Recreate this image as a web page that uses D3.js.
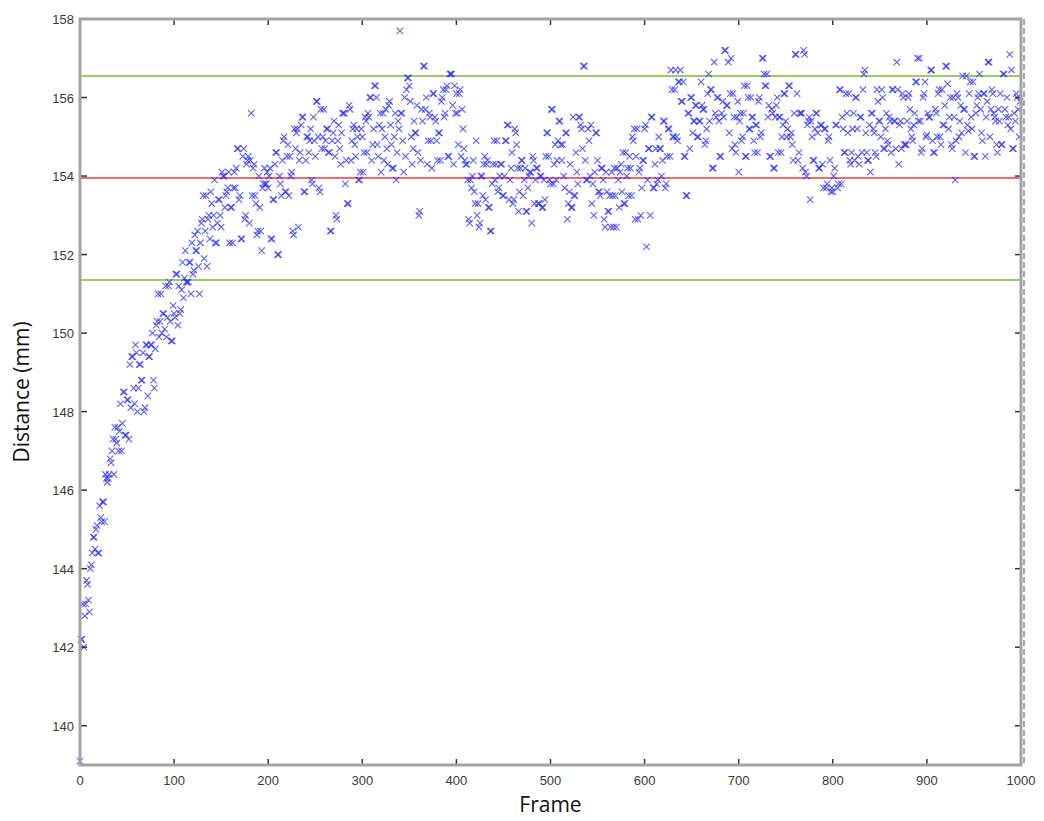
<!DOCTYPE html>
<html>
<head>
<meta charset="utf-8">
<script src="https://cdn.jsdelivr.net/npm/d3@7"></script>
<style>
  body { margin: 0; background: #fff; }
  svg { display: block; }
</style>
</head>
<body>
<svg id="chart" width="1044" height="821"></svg>
<script>
// distance, even frames (0, 2, 4 ...)
const distEven0 = [
  139.1,142.2,142.0,143.1,143.6,142.9,144.1,144.8,144.5,145.1,
  144.4,145.3,145.7,145.2,146.3,146.3,146.8,147.0,146.4,147.3,
  147.6,147.5,147.0,148.5,147.4,148.3,147.3,148.1,149.4,148.2,
  149.5,148.6,149.2,148.8,148.0,149.7,148.4,149.4,149.7,148.8,
  149.6,150.3,149.9,151.0,150.5,150.1,149.9,151.2,150.3,149.8,
  150.5,151.5,150.2,150.5,151.1,150.9,152.1,151.3,151.8,151.0,
  151.5,152.5,152.1,151.7,152.3,152.9,151.9,153.5,152.9,152.4,
  153.3,153.0,152.3,152.8,153.4,152.7,154.0,153.2,153.6,154.1,
  153.2,152.3,154.1,154.2,154.7,153.5,152.4,154.7,153.0,154.4,
  152.8,155.6,154.2,153.5,152.5,154.0,152.6,153.7,154.2,153.8
];
const distEven200 = [
  153.7,154.2,152.4,153.4,154.6,152.0,154.0,153.5,154.9,153.6,
  154.5,153.5,154.0,152.6,155.2,155.1,152.7,154.6,155.5,153.6,
  154.4,155.0,154.9,153.9,155.5,154.5,155.9,153.7,155.7,155.0,
  154.7,155.2,154.6,152.6,154.9,155.4,153.0,154.9,154.7,155.1,
  155.6,153.8,153.3,155.8,154.4,155.2,154.8,155.2,153.9,154.1,
  155.0,154.6,155.4,155.6,156.0,154.4,155.2,156.3,154.8,155.3,
  154.1,155.6,155.0,154.7,155.8,155.3,154.2,155.0,153.9,155.4,
  157.7,155.6,154.1,154.5,156.5,156.3,155.0,154.7,155.1,155.8,
  153.0,154.4,155.4,156.8,156.0,154.9,155.5,154.2,156.1,155.4,
  154.4,155.1,155.9,156.2,155.6,156.3,154.5,156.6,155.8,156.3
];
const distEven400 = [
  156.1,154.8,156.2,155.7,154.7,154.3,153.9,152.8,153.7,154.4,
  153.3,153.0,152.7,154.0,153.5,154.5,154.3,153.2,152.6,153.8,
  154.9,154.3,153.6,154.0,154.3,153.5,154.9,155.3,153.4,154.2,
  153.3,155.2,154.8,153.1,154.2,154.4,153.9,153.1,153.7,154.1,
  152.8,154.4,153.9,154.2,153.3,154.0,153.2,153.4,155.1,154.5,
  153.8,155.7,154.3,153.9,154.9,155.4,154.4,154.0,155.1,152.9,
  153.6,153.2,155.5,153.5,154.1,155.5,155.3,154.7,156.8,153.9,
  155.2,154.0,153.3,153.0,155.1,154.4,153.6,154.2,153.9,152.7,
  153.6,153.1,152.7,153.5,154.2,152.7,153.9,154.1,153.6,153.3,
  154.6,154.2,154.5,153.5,154.9,152.9,155.2,154.1,153.0,154.4
];
const distEven600 = [
  155.2,152.2,154.7,153.0,155.5,153.7,154.7,153.9,154.7,154.0,
  155.4,153.7,154.5,155.2,156.7,155.0,156.2,155.0,156.4,156.7,
  155.9,154.5,153.5,155.6,154.7,156.0,155.4,155.8,155.0,155.4,
  156.4,155.7,154.8,155.2,156.6,156.2,154.2,156.9,155.5,156.0,
  154.5,155.6,155.5,157.2,155.8,155.1,157.0,156.1,154.8,155.5,
  154.1,155.6,155.0,156.3,154.5,156.0,155.2,155.5,154.9,155.3,
  154.6,156.0,155.1,157.0,156.3,156.6,155.8,154.5,155.6,154.2,
  155.8,154.6,155.5,155.0,156.1,155.4,155.2,156.3,155.1,154.4,
  157.1,156.1,154.6,155.6,154.2,157.1,154.0,155.4,153.4,155.0,
  154.4,155.6,155.1,154.2,155.3,153.7,155.2,153.8,155.0,153.6
];
const distEven800 = [
  153.6,154.2,155.3,153.8,156.2,155.5,154.6,156.1,155.1,154.4,
  154.6,155.6,156.0,155.2,154.3,155.5,156.2,156.7,154.6,154.4,
  154.1,155.6,155.1,154.5,155.9,155.4,156.2,154.7,155.2,154.9,
  155.5,154.6,156.2,155.4,156.9,154.3,155.4,156.1,154.8,154.8,
  156.0,155.7,155.0,155.3,156.4,157.0,157.0,154.6,156.0,156.4,
  155.05,155.5,156.7,154.9,154.6,155.6,156.1,155.0,156.2,155.3,
  156.8,156.35,155.5,154.8,156.0,153.9,156.1,155.0,155.8,156.55,
  155.7,156.55,155.15,156.4,155.2,154.5,155.6,156.0,156.6,155.1,
  156.1,154.5,155.9,156.9,155.7,156.1,155.5,154.8,155.7,156.1,
  154.8,156.6,155.5,155.3,157.1,156.7,154.7,155.4,156.0,155.0
];

// odd frames (1, 3, 5 ...)
const distOdd0 = [
  142.2,143.1,142.8,143.7,143.2,144.0,144.4,144.8,145.0,144.4,
  145.6,145.2,145.7,146.4,146.2,146.4,146.7,147.3,147.6,147.2,
  147.0,148.2,147.7,148.5,147.4,148.3,149.2,149.4,148.6,149.7,
  148.0,149.2,148.8,149.5,148.1,149.7,149.4,149.7,150.0,148.6,
  150.2,151.0,150.3,150.0,150.5,151.2,150.4,151.3,149.8,150.7,
  150.4,151.5,151.2,150.6,151.8,151.4,151.3,151.3,151.8,152.3,
  151.6,152.1,152.6,151.0,152.8,153.5,152.6,151.7,153.0,153.6,
  152.7,153.9,152.3,153.4,153.0,154.1,154.0,153.5,153.7,152.3,
  153.2,153.7,153.7,154.7,153.4,152.4,154.5,152.9,154.3,154.5,
  154.4,153.5,154.3,153.3,152.6,153.2,152.1,153.8,153.8,154.1
];
const distOdd200 = [
  154.0,152.4,153.4,154.3,154.6,152.0,153.8,154.4,155.0,153.6,
  154.8,154.5,154.1,152.5,154.7,155.2,154.4,155.3,155.5,153.6,
  155.0,154.6,155.2,153.8,154.9,155.9,155.0,153.6,154.7,155.7,
  154.9,155.2,154.6,152.6,155.1,154.5,152.9,155.3,154.3,155.6,
  155.6,154.4,153.3,155.7,154.9,155.3,154.5,155.0,153.9,155.2,
  154.1,155.5,154.6,155.5,156.0,154.8,156.3,156.0,154.5,155.6,
  155.2,154.4,155.7,154.3,155.9,154.8,154.2,155.6,154.6,155.2,
  155.6,154.9,156.0,156.2,156.5,155.9,154.3,155.4,155.1,154.6,
  153.1,155.7,156.8,155.7,154.3,155.6,154.9,156.1,155.5,154.9,
  155.1,154.4,156.0,155.5,156.2,154.5,156.6,156.6,154.3,155.6
];
const distOdd400 = [
  155.6,156.1,154.5,155.2,154.4,154.3,152.9,153.9,154.0,153.6,
  154.9,153.3,152.8,154.0,154.3,153.4,154.4,153.2,152.6,154.3,
  153.9,154.9,153.7,154.3,153.5,154.0,154.9,155.3,153.9,154.6,
  153.4,155.1,154.2,153.6,154.4,153.5,154.2,153.1,154.0,154.1,
  154.5,153.3,154.2,153.3,154.0,153.2,153.9,154.5,155.1,153.9,
  155.7,153.8,154.8,154.4,155.4,154.8,154.8,153.7,155.1,153.3,
  154.3,153.2,153.5,154.6,153.8,155.5,155.2,156.8,154.4,153.9,
  154.9,155.3,153.8,154.1,155.1,153.6,153.5,154.2,152.9,154.1,
  153.1,153.5,154.1,152.7,153.5,154.2,153.2,154.3,154.6,153.3,
  154.0,153.5,154.2,155.0,155.2,154.5,152.9,154.2,153.7,154.4
];
const distOdd600 = [
  155.3,153.9,154.7,155.5,153.7,154.3,153.8,155.0,154.7,154.4,
  155.4,153.8,155.2,154.5,156.2,155.0,156.7,154.9,156.4,155.9,
  156.4,154.5,153.5,155.6,156.0,155.1,155.4,155.8,155.0,155.4,
  155.8,155.7,154.9,156.1,155.4,156.2,154.2,155.6,156.0,155.4,
  154.5,155.9,157.2,155.8,156.9,156.1,154.7,155.5,154.6,155.9,
  155.4,154.9,155.6,154.5,156.3,155.2,156.0,155.5,154.6,155.3,
  155.9,155.0,157.0,156.6,156.3,155.5,154.5,155.7,154.2,155.5,
  156.0,155.5,154.6,155.3,156.1,155.0,156.3,155.0,154.8,155.6,
  157.1,154.4,155.6,155.6,157.2,154.1,155.3,155.5,155.4,154.4,
  155.2,155.6,154.2,155.3,154.3,155.2,153.7,154.9,154.4,153.7
];
const distOdd800 = [
  154.0,155.3,153.7,156.2,153.8,155.2,154.6,155.6,156.1,154.3,
  155.2,154.4,156.0,154.5,155.5,154.6,156.6,155.1,154.4,155.3,
  155.6,155.2,154.6,156.2,155.4,155.0,156.0,154.7,155.6,154.8,
  155.4,156.2,155.4,154.7,156.2,155.3,154.7,156.0,154.8,155.4,
  156.1,155.2,154.9,155.6,156.4,155.4,155.4,154.7,156.1,155.0,
  155.6,155.5,156.7,154.6,155.7,155.0,156.2,154.8,155.3,155.8,
  156.8,155.2,156.0,154.7,155.5,154.9,156.0,155.4,155.1,155.7,
  154.6,155.3,156.1,155.5,156.4,154.5,155.8,156.1,155.7,154.9,
  156.1,155.5,156.9,155.0,156.2,155.6,155.4,154.6,155.4,154.8,
  156.6,155.7,156.0,155.5,155.2,154.7,155.6,156.1,155.7,155.9
];

// reference lines: upper limit, mean, lower limit
const upperLimit = 156.55;
const meanLine = 153.95;
const lowerLimit = 151.35;

const xTicks = [0, 100, 200, 300, 400, 500, 600, 700, 800, 900, 1000];
const yTicks = [140, 142, 144, 146, 148, 150, 152, 154, 156, 158];

const even = [].concat(distEven0, distEven200, distEven400, distEven600, distEven800);
const odd = [].concat(distOdd0, distOdd200, distOdd400, distOdd600, distOdd800);
const data = even.map((d, i) => ({ frame: i * 2, dist: d }))
  .concat(odd.map((d, i) => ({ frame: i * 2 + 1, dist: d })));

const margin = { top: 19, right: 23, bottom: 56, left: 80 };
const width = 1044, height = 821;
const innerWidth = width - margin.left - margin.right;
const innerHeight = height - margin.top - margin.bottom;

const svg = d3.select("#chart");
const g = svg.append("g").attr("transform", `translate(${margin.left},${margin.top})`);

const x = d3.scaleLinear().domain([0, 1000]).range([0, innerWidth]);
const y = d3.scaleLinear().domain([139, 158]).range([innerHeight, 0]);

// horizontal limit lines
g.selectAll(".hline").data([
  { v: upperLimit, c: "#9ccc5c" },
  { v: meanLine, c: "#f26a6a" },
  { v: lowerLimit, c: "#9ccc5c" }
]).join("line")
  .attr("class", "hline")
  .attr("x1", 0).attr("x2", innerWidth)
  .attr("y1", d => y(d.v)).attr("y2", d => y(d.v))
  .attr("stroke", d => d.c).attr("stroke-width", 2);

// x markers
const s = 3.2;
g.selectAll(".pt").data(data).join("path")
  .attr("class", "pt")
  .attr("d", d => {
    const cx = x(d.frame), cy = y(d.dist);
    return `M${cx - s},${cy - s}L${cx + s},${cy + s}M${cx - s},${cy + s}L${cx + s},${cy - s}`;
  })
  .attr("stroke", "#2a2aff").attr("stroke-opacity", 0.75)
  .attr("stroke-width", 1.1).attr("fill", "none");

// ticks (inward on all four sides)
const tickColor = "#333";
g.selectAll(".xt-b").data(xTicks.slice(1, -1)).join("line").attr("class", "xt-b")
  .attr("x1", d => x(d)).attr("x2", d => x(d))
  .attr("y1", innerHeight).attr("y2", innerHeight - 6)
  .attr("stroke", tickColor).attr("stroke-width", 1.5);
g.selectAll(".xt-t").data(xTicks.slice(1, -1)).join("line").attr("class", "xt-t")
  .attr("x1", d => x(d)).attr("x2", d => x(d))
  .attr("y1", 0).attr("y2", 6)
  .attr("stroke", tickColor).attr("stroke-width", 1.5);
g.selectAll(".yt-l").data(yTicks.slice(0, -1)).join("line").attr("class", "yt-l")
  .attr("x1", 0).attr("x2", 7)
  .attr("y1", d => y(d)).attr("y2", d => y(d))
  .attr("stroke", tickColor).attr("stroke-width", 1.5);
g.selectAll(".yt-r").data(yTicks.slice(0, -1)).join("line").attr("class", "yt-r")
  .attr("x1", innerWidth).attr("x2", innerWidth - 6)
  .attr("y1", d => y(d)).attr("y2", d => y(d))
  .attr("stroke", tickColor).attr("stroke-width", 1.5);

// frame box
g.append("rect")
  .attr("x", 0).attr("y", 0).attr("width", innerWidth).attr("height", innerHeight)
  .attr("fill", "none").attr("stroke", "#a3a3a3").attr("stroke-width", 3);
g.append("line")
  .attr("x1", innerWidth + 3).attr("x2", innerWidth + 3)
  .attr("y1", 0).attr("y2", innerHeight)
  .attr("stroke", "#555").attr("stroke-width", 1).attr("stroke-dasharray", "6,3");

// tick labels
g.selectAll(".xl").data(xTicks).join("text").attr("class", "xl")
  .attr("x", d => x(d)).attr("y", innerHeight + 20)
  .attr("text-anchor", "middle")
  .style("font-family", "'Liberation Sans', Arial, sans-serif")
  .style("font-size", "13px").attr("fill", "#3a3a3a")
  .text(d => d);
g.selectAll(".yl").data(yTicks).join("text").attr("class", "yl")
  .attr("x", -6).attr("y", d => y(d) + 5)
  .attr("text-anchor", "end")
  .style("font-family", "'Liberation Sans', Arial, sans-serif")
  .style("font-size", "13px").attr("fill", "#3a3a3a")
  .text(d => d);

// axis titles
svg.append("text")
  .attr("x", margin.left + innerWidth / 2).attr("y", 812)
  .attr("text-anchor", "middle")
  .style("font-family", "'Open Sans', 'Noto Sans', sans-serif")
  .style("font-size", "21px").attr("fill", "#111")
  .text("Frame");
svg.append("text")
  .attr("transform", `translate(29,${margin.top + innerHeight / 2}) rotate(-90)`)
  .attr("text-anchor", "middle")
  .style("font-family", "'Open Sans', 'Noto Sans', sans-serif")
  .style("font-size", "21px").attr("fill", "#111")
  .text("Distance (mm)");
</script>
</body>
</html>
